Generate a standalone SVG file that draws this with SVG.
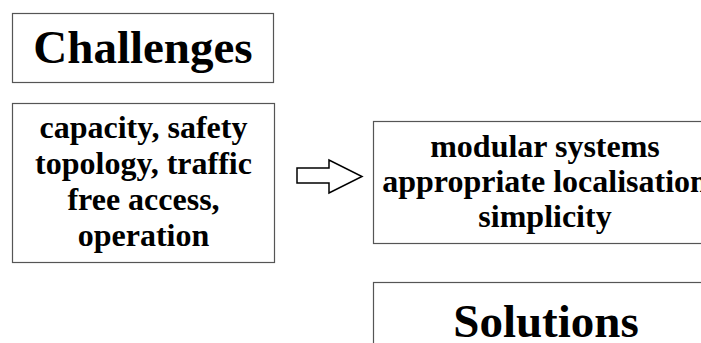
<svg xmlns="http://www.w3.org/2000/svg" width="701" height="343" viewBox="0 0 701 343">
<style>
.box{fill:#fff;stroke:#555;stroke-width:1.2}
.t{font-family:"Liberation Serif","Times New Roman",serif;font-weight:bold;fill:#000;text-anchor:middle}
.big{font-size:47px}
.mid{font-size:32px}
.arrow{fill:#fff;stroke:#000;stroke-width:1.5}
</style>
<rect width="701" height="343" fill="#fff"/>
<g id="challenges">
<rect class="box" x="12.5" y="13.5" width="261" height="69"/>
<text class="t big" x="143" y="63">Challenges</text>
</g>
<g id="problems">
<rect class="box" x="12.5" y="103.5" width="262" height="159"/>
<text class="t mid" x="143.5" y="138">capacity, safety</text>
<text class="t mid" x="143.5" y="174">topology, traffic</text>
<text class="t mid" x="143.5" y="210">free access,</text>
<text class="t mid" x="143.5" y="246">operation</text>
</g>
<g id="connectors">
<path class="arrow" d="M297,168 H329 V160 L362,176.5 L329,193 V183 H297 Z"/>
</g>
<g id="approaches">
<rect class="box" x="373.5" y="121.5" width="340" height="122"/>
<text class="t mid" x="545" y="157">modular systems</text>
<text class="t mid" x="545" y="192">appropriate localisation</text>
<text class="t mid" x="545" y="227">simplicity</text>
</g>
<g id="solutions">
<rect class="box" x="373.5" y="282.5" width="340" height="80"/>
<text class="t big" x="546" y="337">Solutions</text>
</g>
</svg>
